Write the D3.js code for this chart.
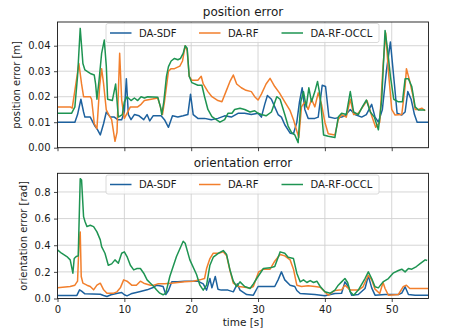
<!DOCTYPE html>
<html><head><meta charset="utf-8">
<script src="https://cdn.jsdelivr.net/npm/d3@7"></script>
<style>
html,body{margin:0;padding:0;background:#fff;}
svg{display:block;font-family:"DejaVu Sans",sans-serif;}
</style></head>
<body><svg id="c" width="452" height="334"></svg>
<script>
// ---- data (time [s], value) ----
const seriesNames = ["DA-SDF", "DA-RF", "DA-RF-OCCL"];
const seriesColors = ["#1d619e", "#f27f2c", "#1e9452"];
const panelTitles = ["position error", "orientation error"];
const yLabels = ["position error [m]", "orientation error [rad]"];
const posTicks = [0.00, 0.01, 0.02, 0.03, 0.04];
const oriTicks = [0.0, 0.2, 0.4, 0.6, 0.8];
const timeTicks = [0, 10, 20, 30, 40, 50];

const posSdf = [[0,0.010],[2.6,0.010],[3.0,0.013],[3.5,0.019],[3.9,0.014],[4.1,0.012],[4.9,0.012],[5.6,0.0085],[6.0,0.007],[6.4,0.005],[6.9,0.0095],[7.3,0.014],[7.9,0.012],[8.5,0.012],[9.0,0.011],[9.6,0.011],[10.0,0.014],[10.3,0.027],[10.6,0.013],[11.0,0.011],[11.5,0.013],[12.2,0.0125],[12.9,0.011],[13.4,0.013],[13.8,0.0105],[14.3,0.0125],[15.5,0.0125],[16.0,0.011],[16.6,0.008],[17.2,0.0125],[18.0,0.012],[18.8,0.0125],[19.5,0.013],[19.9,0.021],[20.3,0.013],[21.0,0.0115],[22.0,0.0115],[23.0,0.011],[24.0,0.0115],[25.0,0.0125],[26.0,0.012],[27.0,0.0135],[28.0,0.0135],[29.0,0.013],[30.0,0.0135],[30.5,0.012],[31.0,0.017],[31.4,0.0205],[32.0,0.019],[32.5,0.016],[33.0,0.013],[33.5,0.012],[34.0,0.009],[34.8,0.0057],[35.3,0.0055],[35.8,0.010],[36.2,0.018],[36.6,0.0235],[37.0,0.015],[37.5,0.0115],[38.5,0.0115],[39.0,0.012],[39.6,0.0245],[40.1,0.024],[40.6,0.012],[41.5,0.0115],[42.5,0.012],[43.0,0.0125],[43.8,0.015],[44.5,0.013],[45.5,0.012],[46.2,0.013],[47.0,0.017],[47.5,0.012],[48.0,0.010],[48.6,0.015],[49.2,0.030],[49.8,0.0415],[50.4,0.025],[50.8,0.0135],[51.5,0.0128],[52.0,0.014],[52.4,0.022],[52.9,0.019],[53.4,0.013],[53.8,0.010],[55.5,0.010]];
const posRf = [[0,0.016],[1.9,0.016],[2.2,0.0155],[2.6,0.0225],[3.2,0.033],[3.6,0.025],[3.9,0.020],[4.9,0.020],[5.1,0.019],[5.5,0.0095],[5.9,0.0075],[6.3,0.024],[6.6,0.031],[6.9,0.025],[7.3,0.0148],[7.7,0.0128],[8.1,0.011],[8.6,0.0025],[8.9,0.006],[9.3,0.037],[9.6,0.0187],[10.0,0.0115],[10.4,0.0135],[10.9,0.016],[12.0,0.016],[12.5,0.017],[13.0,0.0185],[14.0,0.019],[15.0,0.0195],[15.4,0.016],[15.7,0.013],[16.0,0.018],[16.6,0.030],[17.0,0.031],[17.5,0.031],[18.3,0.032],[18.7,0.034],[19.1,0.040],[19.4,0.038],[19.7,0.028],[20.1,0.0265],[21.0,0.0265],[21.5,0.028],[21.8,0.025],[22.5,0.022],[23.1,0.020],[24.0,0.0185],[24.6,0.018],[25.2,0.022],[25.8,0.026],[26.3,0.0285],[26.8,0.025],[27.5,0.0235],[28.2,0.0225],[29.0,0.022],[29.5,0.020],[30.0,0.0187],[30.5,0.021],[31.2,0.025],[31.8,0.0272],[32.5,0.024],[33.2,0.0215],[34.0,0.018],[34.8,0.0145],[35.3,0.011],[35.8,0.0065],[36.1,0.004],[36.5,0.016],[37.0,0.018],[37.5,0.015],[38.0,0.019],[38.5,0.016],[39.0,0.0215],[39.5,0.017],[40.0,0.010],[40.5,0.0055],[41.5,0.005],[42.0,0.011],[42.5,0.013],[43.2,0.012],[43.8,0.019],[44.3,0.013],[45.0,0.0135],[45.8,0.0165],[46.3,0.0185],[47.0,0.0125],[47.6,0.008],[48.2,0.010],[48.7,0.032],[49.1,0.045],[49.5,0.030],[50.0,0.015],[50.5,0.0128],[51.5,0.013],[52.0,0.024],[52.2,0.031],[52.7,0.026],[53.2,0.020],[53.5,0.015],[54.0,0.015],[54.5,0.0155],[55.0,0.0145]];
const posOccl = [[0,0.0135],[2.1,0.0135],[2.6,0.016],[3.0,0.028],[3.4,0.0468],[3.6,0.040],[3.8,0.033],[4.1,0.0305],[5.0,0.029],[5.5,0.0285],[5.7,0.025],[5.9,0.019],[6.2,0.026],[6.6,0.037],[7.0,0.0422],[7.3,0.032],[7.5,0.019],[8.2,0.0185],[8.7,0.025],[9.1,0.012],[9.7,0.013],[10.0,0.018],[10.4,0.020],[11.0,0.0185],[11.5,0.0195],[12.0,0.0185],[12.5,0.020],[13.0,0.0195],[13.5,0.020],[15.0,0.0198],[15.4,0.016],[15.6,0.013],[15.9,0.018],[16.3,0.028],[16.6,0.0318],[17.0,0.034],[17.5,0.035],[18.0,0.0345],[18.4,0.035],[18.8,0.037],[19.1,0.040],[19.4,0.039],[19.7,0.028],[20.1,0.0255],[21.0,0.0245],[21.6,0.0245],[22.0,0.020],[22.5,0.015],[23.1,0.0122],[24.3,0.010],[25.0,0.011],[25.5,0.0135],[26.1,0.0135],[26.5,0.015],[27.3,0.0155],[28.0,0.015],[28.8,0.014],[29.5,0.0145],[30.0,0.0135],[30.5,0.013],[31.2,0.0125],[32.0,0.014],[32.8,0.020],[33.3,0.019],[34.0,0.013],[34.5,0.0085],[35.0,0.006],[35.5,0.005],[36.0,0.002],[36.4,0.018],[36.8,0.022],[37.2,0.016],[37.6,0.0235],[38.0,0.018],[38.5,0.022],[38.9,0.026],[39.3,0.020],[39.8,0.005],[40.5,0.0045],[41.5,0.004],[42.0,0.012],[42.5,0.0135],[43.2,0.013],[43.8,0.022],[44.3,0.014],[45.0,0.013],[45.6,0.016],[46.2,0.0187],[46.8,0.014],[47.4,0.012],[48.0,0.007],[48.5,0.0187],[49.0,0.046],[49.4,0.038],[49.8,0.028],[50.3,0.019],[51.0,0.018],[51.6,0.018],[52.0,0.027],[52.5,0.027],[53.0,0.024],[53.5,0.016],[54.0,0.0148],[55.0,0.0148]];

const oriSdf = [[0,0.023],[2.9,0.023],[3.3,0.065],[3.6,0.055],[4.1,0.035],[6.4,0.032],[6.9,0.023],[7.4,0.015],[8.0,0.028],[9.0,0.04],[9.6,0.045],[10.0,0.028],[10.4,0.02],[11.0,0.035],[12.4,0.053],[13.4,0.065],[14.4,0.085],[14.8,0.1],[15.3,0.095],[15.8,0.09],[16.2,0.03],[16.6,0.06],[17.1,0.125],[18.0,0.125],[19.0,0.13],[20.0,0.13],[21.0,0.13],[21.8,0.11],[22.3,0.063],[22.8,0.15],[23.1,0.08],[23.6,0.165],[24.0,0.07],[24.5,0.063],[25.5,0.063],[26.3,0.05],[26.9,0.11],[27.3,0.063],[28.3,0.03],[29.3,0.025],[30.0,0.09],[31.0,0.09],[32.5,0.09],[33.0,0.14],[33.5,0.2],[34.0,0.14],[34.8,0.1],[35.5,0.09],[35.8,0.06],[36.3,0.038],[38.5,0.03],[40.0,0.02],[41.5,0.038],[42.5,0.04],[43.0,0.125],[43.5,0.088],[44.0,0.025],[45.0,0.03],[46.0,0.075],[46.5,0.17],[47.0,0.08],[47.5,0.025],[49.0,0.03],[51.0,0.03],[51.5,0.04],[52.0,0.088],[52.5,0.03],[53.5,0.025],[55.5,0.025]];
const oriRf = [[0,0.08],[1.9,0.09],[2.6,0.1],[3.0,0.13],[3.2,0.39],[3.4,0.50],[3.55,0.165],[3.8,0.115],[4.4,0.10],[4.9,0.09],[5.4,0.065],[5.9,0.1],[6.4,0.115],[6.9,0.065],[7.4,0.04],[8.4,0.04],[8.9,0.05],[9.4,0.08],[9.9,0.14],[10.4,0.13],[11.1,0.1],[11.8,0.1],[12.4,0.13],[12.9,0.115],[13.9,0.1],[14.4,0.1],[15.0,0.11],[16.0,0.11],[17.0,0.115],[18.0,0.12],[19.0,0.125],[20.3,0.13],[21.3,0.14],[22.0,0.15],[22.3,0.225],[22.8,0.30],[23.3,0.34],[24.1,0.34],[24.8,0.35],[25.3,0.32],[25.8,0.21],[26.3,0.115],[27.1,0.09],[28.0,0.085],[28.8,0.078],[29.3,0.09],[30.1,0.2],[30.8,0.22],[31.8,0.22],[32.5,0.28],[33.3,0.33],[34.0,0.32],[34.8,0.29],[35.3,0.22],[35.8,0.10],[36.5,0.09],[37.5,0.095],[38.5,0.09],[39.3,0.085],[40.0,0.05],[40.5,0.025],[41.5,0.06],[42.5,0.065],[43.0,0.10],[43.8,0.063],[45.0,0.063],[45.7,0.088],[46.5,0.175],[47.0,0.14],[47.5,0.07],[48.2,0.038],[48.7,0.12],[49.0,0.075],[49.5,0.025],[51.0,0.03],[51.7,0.088],[52.2,0.1],[52.7,0.075],[55.5,0.075]];
const oriOccl = [[0,0.365],[0.6,0.34],[1.4,0.315],[1.9,0.29],[2.3,0.19],[2.5,0.3],[2.8,0.315],[3.1,0.32],[3.4,0.90],[3.6,0.89],[3.9,0.615],[4.1,0.58],[4.4,0.54],[4.9,0.55],[5.4,0.54],[5.9,0.50],[6.4,0.44],[6.6,0.39],[7.1,0.34],[7.6,0.25],[8.1,0.26],[8.6,0.29],[9.1,0.265],[9.6,0.34],[10.0,0.35],[10.4,0.315],[10.9,0.25],[11.4,0.215],[11.9,0.225],[12.4,0.225],[12.9,0.19],[13.4,0.14],[13.9,0.115],[14.4,0.09],[14.8,0.065],[15.3,0.04],[15.8,0.028],[16.2,0.04],[16.8,0.165],[17.8,0.315],[18.8,0.43],[19.1,0.415],[19.8,0.29],[20.8,0.18],[21.3,0.1],[21.8,0.063],[22.3,0.1],[22.8,0.25],[23.3,0.31],[24.1,0.34],[24.8,0.36],[25.3,0.33],[25.8,0.215],[26.3,0.13],[26.8,0.09],[27.3,0.125],[28.0,0.09],[28.8,0.075],[29.3,0.11],[29.8,0.15],[30.8,0.225],[31.8,0.23],[32.5,0.24],[33.3,0.35],[34.0,0.34],[34.5,0.31],[35.3,0.30],[35.8,0.19],[36.3,0.125],[36.8,0.14],[37.3,0.12],[37.8,0.135],[38.3,0.12],[38.8,0.13],[39.3,0.09],[40.0,0.05],[40.8,0.04],[41.5,0.063],[42.0,0.10],[42.5,0.125],[43.0,0.15],[43.4,0.12],[43.8,0.05],[44.3,0.025],[45.0,0.063],[46.0,0.15],[46.5,0.2],[47.0,0.15],[47.5,0.088],[48.0,0.08],[48.7,0.125],[49.5,0.15],[50.2,0.19],[51.0,0.21],[51.5,0.22],[52.0,0.2],[52.5,0.225],[53.0,0.22],[53.7,0.24],[54.2,0.26],[55.0,0.29],[55.3,0.285]];

// ---- drawing ----
const svg = d3.select("#c");
const X0 = 57.5, X1 = 428.5;
const x = d3.scaleLinear().domain([0, 55.5]).range([X0, X1]);

const panels = [
  {top: 22, bottom: 147.7, ymax: 0.0493, ticks: posTicks, fmt: d3.format(".2f"), data: [posSdf, posRf, posOccl],
   title: panelTitles[0], ylab: yLabels[0], titleY: 16, ylabX: 19.5, legTop: 23.5, showX: false},
  {top: 173.3, bottom: 298.5, ymax: 0.94, ticks: oriTicks, fmt: d3.format(".1f"), data: [oriSdf, oriRf, oriOccl],
   title: panelTitles[1], ylab: yLabels[1], titleY: 166.5, ylabX: 27, legTop: 175, showX: true}
];

panels.forEach((p, pi) => {
  const y = d3.scaleLinear().domain([0, p.ymax]).range([p.bottom, p.top]);
  const g = svg.append("g");
  g.append("g").selectAll("line").data(timeTicks).join("line")
    .attr("x1", d => x(d)).attr("x2", d => x(d)).attr("y1", p.top).attr("y2", p.bottom)
    .attr("stroke", "#d0d0d0").attr("stroke-width", 0.9);
  g.append("g").selectAll("line").data(p.ticks).join("line")
    .attr("x1", X0).attr("x2", X1).attr("y1", d => y(d)).attr("y2", d => y(d))
    .attr("stroke", "#d0d0d0").attr("stroke-width", 0.9);
  const cid = "clip" + pi;
  svg.append("clipPath").attr("id", cid).append("rect")
    .attr("x", X0).attr("y", p.top).attr("width", X1 - X0).attr("height", p.bottom - p.top);
  const line = d3.line().x(d => x(d[0])).y(d => y(d[1]));
  p.data.forEach((s, i) => {
    g.append("path").datum(s).attr("d", line).attr("fill", "none")
      .attr("stroke", seriesColors[i]).attr("stroke-width", 1.5)
      .attr("stroke-linejoin", "round").attr("clip-path", `url(#${cid})`);
  });
  const ax = g.append("g").attr("transform", `translate(0,${p.bottom})`)
    .call(d3.axisBottom(x).tickValues(timeTicks).tickSize(3.5).tickPadding(4)
      .tickFormat(p.showX ? d3.format("d") : () => ""));
  const ay = g.append("g").attr("transform", `translate(${X0},0)`)
    .call(d3.axisLeft(y).tickValues(p.ticks).tickSize(3.5).tickPadding(3.5).tickFormat(p.fmt));
  [ax, ay].forEach(a => {
    a.select(".domain").remove();
    a.selectAll("text").attr("font-size", 10).attr("fill", "#1a1a1a").attr("font-family", "DejaVu Sans");
    a.selectAll("line").attr("stroke", "#1a1a1a").attr("stroke-width", 0.8);
  });
  g.append("rect").attr("x", X0).attr("y", p.top).attr("width", X1 - X0).attr("height", p.bottom - p.top)
    .attr("fill", "none").attr("stroke", "#1a1a1a").attr("stroke-width", 0.9);
  g.append("text").attr("x", (X0 + X1) / 2).attr("y", p.titleY).attr("text-anchor", "middle")
    .attr("font-size", 12).attr("fill", "#1a1a1a").text(p.title);
  g.append("text").attr("transform", `translate(${p.ylabX},${(p.top + p.bottom) / 2}) rotate(-90)`)
    .attr("text-anchor", "middle").attr("font-size", 10).attr("fill", "#1a1a1a").text(p.ylab);
  const lg = g.append("g");
  lg.append("rect").attr("x", 106).attr("y", p.legTop).attr("width", 273).attr("height", 19)
    .attr("rx", 2).attr("fill", "#fff").attr("fill-opacity", 0.8).attr("stroke", "#d0d0d0").attr("stroke-width", 0.8);
  const hx = [110, 199, 281.5];
  seriesNames.forEach((n, i) => {
    const cy = p.legTop + 9.5;
    lg.append("line").attr("x1", hx[i]).attr("x2", hx[i] + 21.5).attr("y1", cy).attr("y2", cy)
      .attr("stroke", seriesColors[i]).attr("stroke-width", 1.5);
    lg.append("text").attr("x", hx[i] + 29).attr("y", cy + 3.6).attr("font-size", 10).attr("fill", "#1a1a1a").text(n);
  });
});

svg.append("text").attr("x", (X0 + X1) / 2).attr("y", 326).attr("text-anchor", "middle")
  .attr("font-size", 10.5).attr("fill", "#1a1a1a").text("time [s]");
</script></body></html>
